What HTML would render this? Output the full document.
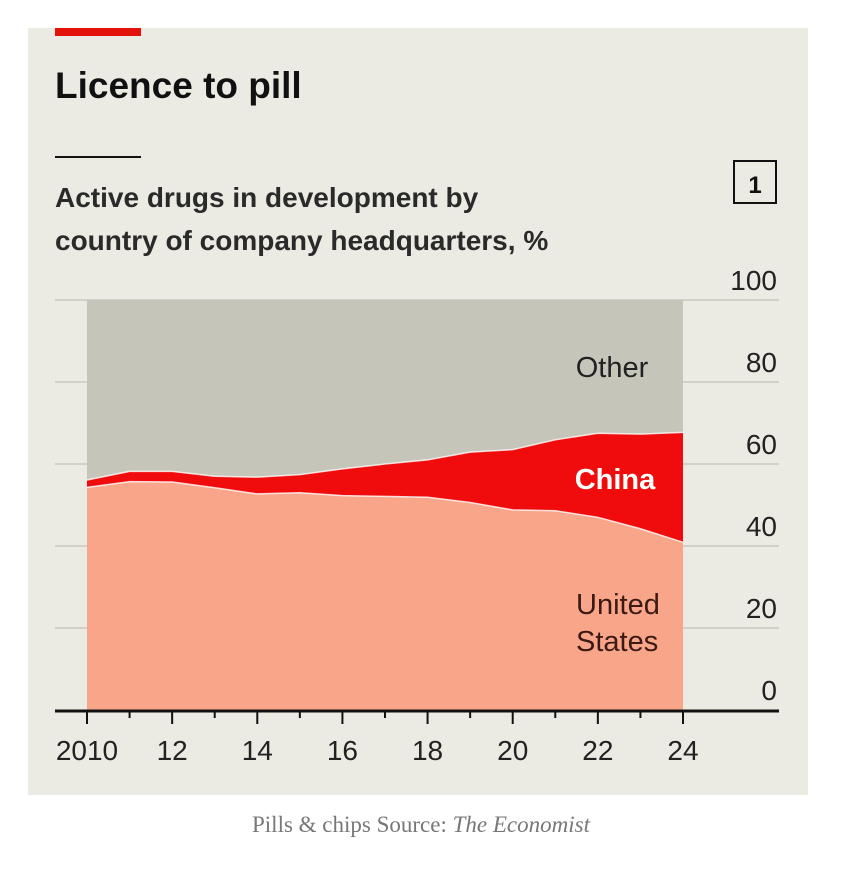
<!DOCTYPE html>
<html><head><meta charset="utf-8"><style>
body{margin:0;background:#fff;width:842px;height:870px;position:relative;overflow:hidden;font-family:"Liberation Sans",sans-serif}
#panel{position:absolute;left:28px;top:28px;width:780px;height:767px;background:#ecebe3}
</style></head><body>
<div id="panel"></div>
<svg width="842" height="870" style="position:absolute;left:0;top:0">
<rect x="55" y="28" width="86" height="8" fill="#e3120b"/>
<text x="55" y="98" font-size="37" font-weight="bold" fill="#111">Licence to pill</text>
<rect x="55" y="156" width="86" height="2" fill="#111"/>
<text x="55" y="207" font-size="28" font-weight="bold" fill="#2a2a2a">Active drugs in development by</text>
<text x="55" y="250" font-size="28" font-weight="bold" fill="#2a2a2a">country of company headquarters, %</text>
<rect x="734" y="161" width="42" height="42" fill="none" stroke="#111" stroke-width="2"/>
<text x="755" y="193" font-size="24" font-weight="bold" text-anchor="middle" fill="#111">1</text>
<g id="grid"></g><g id="areas"></g><g id="axis"></g>
<text x="612" y="377" font-size="29" text-anchor="middle" fill="#222" font-family="'Liberation Sans Narrow','Liberation Sans',sans-serif">Other</text>
<text x="615" y="489" font-size="29" font-weight="bold" text-anchor="middle" fill="#fff" font-family="'Liberation Sans Narrow','Liberation Sans',sans-serif">China</text>
<text x="576" y="614" font-size="29" fill="#3a1a12" font-family="'Liberation Sans Narrow','Liberation Sans',sans-serif">United</text>
<text x="576" y="651" font-size="29" fill="#3a1a12" font-family="'Liberation Sans Narrow','Liberation Sans',sans-serif">States</text>
</svg>
<div style="position:absolute;left:0;width:842px;top:812px;text-align:center;font-family:'Liberation Serif',serif;font-size:23px;color:#777">Pills &amp; chips Source: <i>The Economist</i></div>
<script>
const years=[2010,2011,2012,2013,2014,2015,2016,2017,2018,2019,2020,2021,2022,2023,2024];
const us=[54.3,55.7,55.6,54.2,52.7,53,52.3,52.1,51.9,50.6,48.8,48.6,47,44.2,40.9];
const china=[1.8,2.5,2.6,2.8,4.1,4.4,6.5,7.9,9.1,12.3,14.7,17.3,20.5,23.1,26.8];
const yTicks=[0,20,40,60,80,100];
const xTickLabels=["2010","12","14","16","18","20","22","24"];
const NS="http://www.w3.org/2000/svg";
const X=y=>87+(y-2010)*(683-87)/14;
const Y=v=>710-v*4.1;
function mk(t,a,p){const e=document.createElementNS(NS,t);for(const k in a)e.setAttribute(k,a[k]);p.appendChild(e);return e;}
const grid=document.getElementById('grid'),areas=document.getElementById('areas'),axis=document.getElementById('axis');
yTicks.forEach(v=>{
 if(v>0){const l=mk('line',{x1:55,x2:779,y1:Y(v),y2:Y(v),stroke:'#c9c8c0','stroke-width':1.5},grid);
 
 }
 const t=mk('text',{x:777,y:Y(v)-10,'font-size':28,'text-anchor':'end',fill:'#222','font-family':"'Liberation Sans Narrow','Liberation Sans',sans-serif"},grid);t.textContent=v;
 
 
});
const stackTop=us.map((u,i)=>u+china[i]);
const other=mk('rect',{x:X(2010),y:Y(100),width:X(2024)-X(2010),height:Y(0)-Y(100),fill:'#c6c5ba'},areas);


function line(arr){return years.map((y,i)=>X(y)+','+Y(arr[i])).join(' L');}
const ch=mk('path',{d:'M'+line(stackTop)+' L'+years.slice().reverse().map((y,j)=>X(y)+','+Y(us[years.length-1-j])).join(' L')+'Z',fill:'#f00c0c'},areas);


const u=mk('path',{d:'M'+line(us)+' L'+X(2024)+','+Y(0)+' L'+X(2010)+','+Y(0)+'Z',fill:'#f9a589'},areas);


const l1=mk('path',{d:'M'+line(stackTop),fill:'none',stroke:'#fff','stroke-width':1.5,opacity:0.8},areas);


const l2=mk('path',{d:'M'+line(us),fill:'none',stroke:'#fff','stroke-width':1.5,opacity:0.8},areas);


const ax=mk('line',{x1:55,x2:779,y1:711,y2:711,stroke:'#111','stroke-width':3},axis);


years.forEach((y,i)=>{
 const major=i%2===0;
 const t=mk('line',{x1:X(y),x2:X(y),y1:711,y2:major?724:718,stroke:'#111','stroke-width':2},axis);
 
 
 if(major){const tx=mk('text',{x:X(y),y:760,'font-size':28,'text-anchor':'middle',fill:'#222','font-family':"'Liberation Sans Narrow','Liberation Sans',sans-serif"},axis);tx.textContent=xTickLabels[i/2];
 
 }
});
</script>
</body></html>
